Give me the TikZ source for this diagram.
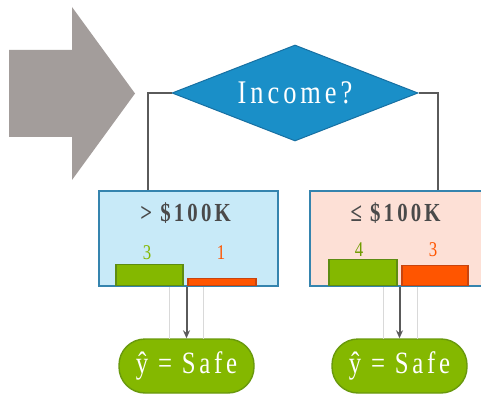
\documentclass[tikz,border=0pt]{standalone}
\usepackage{fontspec}
\setmainfont{Liberation Serif}
\newfontfamily\spacedserif[LetterSpace=12,FakeStretch=0.8]{Liberation Serif}
\usepackage{xcolor}
\usetikzlibrary{shapes.geometric, arrows.meta, positioning}

\definecolor{arrowgray}{HTML}{A39D9B}
\definecolor{decblue}{HTML}{1A8FC8}
\definecolor{decborder}{HTML}{1770A2}
\definecolor{boxborder}{HTML}{3584AE}
\definecolor{highfill}{HTML}{C8EAF8}
\definecolor{lowfill}{HTML}{FDE0D6}
\definecolor{safegreen}{HTML}{84B800}
\definecolor{greenborder}{HTML}{5E8C12}
\definecolor{riskorange}{HTML}{FF5500}
\definecolor{orangeborder}{HTML}{C8440E}
\definecolor{linegray}{HTML}{5A5A5A}
\definecolor{labelgray}{HTML}{4A4A4A}

\begin{document}
\begin{tikzpicture}[x=1pt, y=-1pt, >=Stealth]
    \tikzset{
        decnode/.style={diamond, draw=decborder, fill=decblue, line width=1pt, aspect=2.56, minimum width=246pt, minimum height=96pt, inner sep=0pt, text=white, font=\spacedserif\fontsize{33}{35}\selectfont},
        splitbox/.style={rectangle, draw=boxborder, line width=1.4pt, minimum width=179pt, minimum height=95pt, inner sep=0pt},
        splitlabel/.style={text=labelgray, font=\spacedserif\bfseries\fontsize{26}{28}\selectfont, inner sep=0pt},
        countlabel/.style={font=\spacedserif\fontsize{21}{23}\selectfont, inner sep=0pt},
        safebar/.style={rectangle, draw=greenborder, fill=safegreen, line width=1.4pt, inner sep=0pt, anchor=south},
        riskbar/.style={rectangle, draw=orangeborder, fill=riskorange, line width=1.4pt, inner sep=0pt, anchor=south},
        leafnode/.style={rectangle, rounded corners=26pt, draw=greenborder!70!safegreen, fill=safegreen, line width=1.4pt, minimum width=135pt, minimum height=54pt, inner sep=0pt, text=white, font=\spacedserif\fontsize{31}{33}\selectfont},
        branch/.style={draw=linegray, line width=2pt},
        leafarrow/.style={-{Stealth[length=8pt, width=7pt]}, draw=linegray, line width=2pt},
        guide/.style={draw=black!15, line width=0.7pt}
    }
    \useasboundingbox (0,0) rectangle (481,395);
    \clip (0,0) rectangle (481,395);

    % big arrow on the left
    \fill[arrowgray] (9,50) -- (72,50) -- (72,7) -- (135,93.5) -- (72,180) -- (72,137) -- (9,137) -- cycle;

    % decision and the two splits
    \node[decnode] (income) at (295,93) {Income?};
    \node[splitbox, fill=highfill] (high) at (188.5,238.5) {};
    \node[splitbox, fill=lowfill] (low) at (399.5,238.5) {};
    \node[splitlabel, below=12pt of high.north, xshift=-3pt] (highlabel) {> \$100K};
    \node[splitlabel, below=12pt of low.north, xshift=-4pt] (lowlabel) {≤ \$100K};

    % class counts
    \node[safebar, minimum width=67pt, minimum height=21pt] (highsafe) at (149.5,286) {};
    \node[riskbar, minimum width=68pt, minimum height=7pt] (highrisk) at (222,286) {};
    \node[countlabel, text=safegreen] (highsafenum) at (147,253) {3};
    \node[countlabel, text=riskorange] (highrisknum) at (221,253) {1};
    \node[safebar, minimum width=68pt, minimum height=26pt] (lowsafe) at (363,286) {};
    \node[riskbar, minimum width=66pt, minimum height=20pt] (lowrisk) at (435,286) {};
    \node[countlabel, text=safegreen!85!black] (lowsafenum) at (359,250) {4};
    \node[countlabel, text=riskorange] (lowrisknum) at (433,250) {3};

    % predictions
    \node[leafnode] (highleaf) at (186.5,366) {ŷ = Safe};
    \node[leafnode] (lowleaf) at (399.5,366) {ŷ = Safe};

    % connectors
    \coordinate (highturn) at (148,93);
    \coordinate (lowturn) at (438,93);
    \draw[branch] (income.west) -- (highturn) -- (highturn |- high.north);
    \draw[branch] (income.east) -- (lowturn) -- (lowturn |- low.north);

    \draw[guide] (169,287) -- (169,339);
    \draw[guide] (203,287) -- (203,339);
    \draw[guide] (383,287) -- (383,339);
    \draw[guide] (417,287) -- (417,339);
    \draw[leafarrow] (highleaf.north |- high.south) -- (highleaf.north);
    \draw[leafarrow] (lowleaf.north |- low.south) -- (lowleaf.north);
\end{tikzpicture}
\end{document}
